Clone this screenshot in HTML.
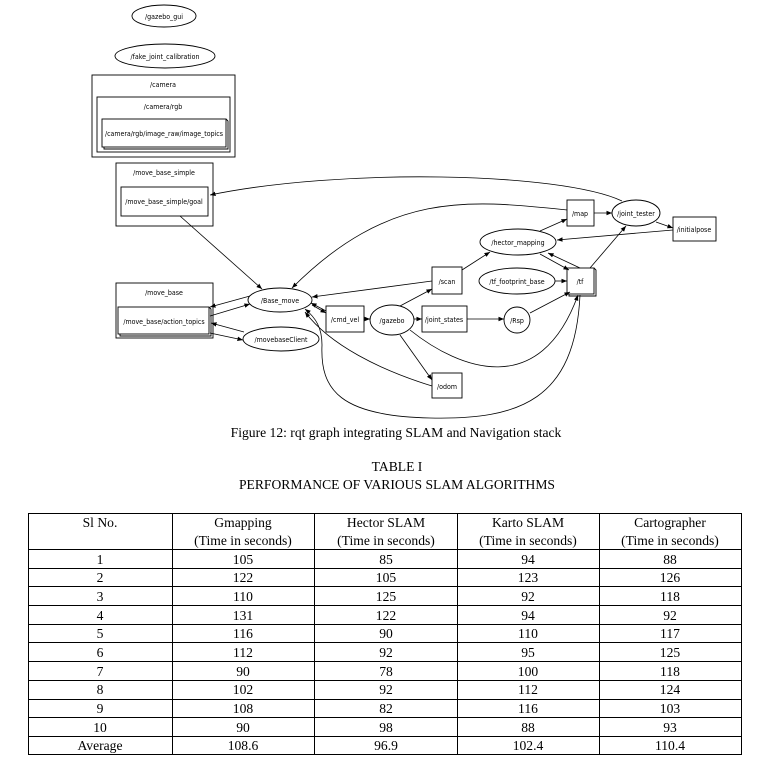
<!DOCTYPE html>
<html><head><meta charset="utf-8"><style>
html,body{margin:0;padding:0;background:#fff;}
svg{display:block}
.g{font-family:"DejaVu Sans Condensed","Liberation Sans",sans-serif;font-size:7px;fill:#000}
.t{font-family:"Liberation Serif",serif;font-size:13.6px;fill:#000}
</style></head><body>
<svg width="780" height="768" viewBox="0 0 780 768" xmlns="http://www.w3.org/2000/svg">
<defs><marker id="a" viewBox="0 0 10 10" refX="10" refY="5" markerWidth="7" markerHeight="7" orient="auto"><path d="M0,1 L10,5 L0,9z" fill="#000"/></marker></defs>
<g fill="none" stroke="#000" stroke-width="0.9">
<ellipse cx="164" cy="16" rx="32" ry="11"/>
<ellipse cx="165" cy="56" rx="50" ry="12"/>
<rect x="92" y="75" width="143" height="82"/>
<rect x="97" y="97" width="133" height="55"/>
<rect x="102" y="119" width="124" height="28"/><path d="M104,147 L104,149 L228,149 L228,121 L226,119"/>
<rect x="116" y="163" width="97" height="63"/>
<rect x="121" y="187" width="87" height="29"/>
<rect x="116" y="283" width="97" height="55"/>
<rect x="118" y="307" width="91" height="27"/><path d="M120,334 L120,336 L211,336 L211,309 L209,307"/>
<ellipse cx="280" cy="300" rx="32" ry="12"/>
<ellipse cx="281" cy="339" rx="38" ry="12"/>
<rect x="326" y="306" width="38" height="26"/>
<ellipse cx="392" cy="320" rx="22" ry="15"/>
<rect x="422" y="306" width="45" height="26"/>
<circle cx="517" cy="320" r="13"/>
<rect x="432" y="267" width="30" height="27"/>
<rect x="432" y="373" width="30" height="25"/>
<ellipse cx="518" cy="242" rx="38" ry="13"/>
<ellipse cx="517" cy="281" rx="38" ry="13"/>
<rect x="567" y="268" width="27" height="26"/><path d="M569,294 L569,296 L596,296 L596,270 L594,268"/>
<rect x="567" y="200" width="27" height="26"/>
<ellipse cx="636" cy="213" rx="24" ry="13"/>
<rect x="673" y="217" width="43" height="24"/>
</g>
<g fill="none" stroke="#000" stroke-width="0.8" marker-end="url(#a)">
<path d="M622,201 C560,172 340,168 210,195"/>
<path d="M180,216 L262,289"/>
<path d="M567,210 C470,200 390,190 292,288"/>
<path d="M594,213 L612,213"/>
<path d="M656,222 L673,228"/>
<path d="M673,230 L557,240"/>
<path d="M540,231 L567,219"/>
<path d="M540,254 L569,270"/>
<path d="M580,268 L548,253"/>
<path d="M590,268 L626,226"/>
<path d="M555,281 L567,281"/>
<path d="M432,281 L312,297"/>
<path d="M462,270 L490,252"/>
<path d="M250,296 L210,307"/>
<path d="M210,316 L250,304"/>
<path d="M210,333 L243,340"/>
<path d="M244,332 L211,323"/>
<path d="M312,305 L326,313"/>
<path d="M326,311 L311,303"/>
<path d="M364,319 L370,319"/>
<path d="M414,319 L422,319"/>
<path d="M467,319 L504,319"/>
<path d="M530,313 L570,292"/>
<path d="M400,306 L432,289"/>
<path d="M400,335 L432,380"/>
<path d="M410,330 C460,370 540,400 578,295"/>
<path d="M432,386 C380,370 330,345 305,312"/>
<path d="M580,295 C575,400 520,420 430,418 C340,416 320,390 322,345 C322,328 316,318 305,309"/>
</g>
<g class="g" text-anchor="middle">
<text x="164" y="19">/gazebo_gui</text>
<text x="165" y="59">/fake_joint_calibration</text>
<text x="163" y="87">/camera</text>
<text x="163" y="109">/camera/rgb</text>
<text x="164" y="136" textLength="118" lengthAdjust="spacingAndGlyphs">/camera/rgb/image_raw/image_topics</text>
<text x="164" y="175">/move_base_simple</text>
<text x="164" y="204">/move_base_simple/goal</text>
<text x="164" y="295">/move_base</text>
<text x="164" y="324">/move_base/action_topics</text>
<text x="280" y="303">/Base_move</text>
<text x="281" y="342">/movebaseClient</text>
<text x="345" y="322">/cmd_vel</text>
<text x="392" y="323">/gazebo</text>
<text x="444" y="322">/joint_states</text>
<text x="517" y="323">/Rsp</text>
<text x="447" y="284">/scan</text>
<text x="447" y="389">/odom</text>
<text x="518" y="245">/hector_mapping</text>
<text x="517" y="284">/tf_footprint_base</text>
<text x="580" y="284">/tf</text>
<text x="580" y="216">/map</text>
<text x="636" y="216">/joint_tester</text>
<text x="694" y="232">/initialpose</text>
</g>
<g class="t" text-anchor="middle">
<text x="396" y="437">Figure 12: rqt graph integrating SLAM and Navigation stack</text>
<text x="397" y="471">TABLE I</text>
<text x="397" y="489">PERFORMANCE OF VARIOUS SLAM ALGORITHMS</text>
</g>
<g stroke="#000" stroke-width="1" fill="none">
<rect x="28.5" y="513.5" width="713" height="241"/>
<path d="M172.5,513 V755 M314.5,513 V755 M457.5,513 V755 M599.5,513 V755"/>
<path d="M28,549.5 H742 M28,568.5 H742 M28,586.5 H742 M28,605.5 H742 M28,624.5 H742 M28,642.5 H742 M28,661.5 H742 M28,680.5 H742 M28,699.5 H742 M28,717.5 H742 M28,736.5 H742"/>
</g>
<g class="t" text-anchor="middle">
<text x="100" y="527">Sl No.</text>
<text x="243" y="527">Gmapping</text><text x="243" y="545">(Time in seconds)</text>
<text x="386" y="527">Hector SLAM</text><text x="386" y="545">(Time in seconds)</text>
<text x="528" y="527">Karto SLAM</text><text x="528" y="545">(Time in seconds)</text>
<text x="670" y="527">Cartographer</text><text x="670" y="545">(Time in seconds)</text>
</g>
<g class="t" text-anchor="middle">
<text x="100" y="564">1</text><text x="243" y="564">105</text><text x="386" y="564">85</text><text x="528" y="564">94</text><text x="670" y="564">88</text>
<text x="100" y="582">2</text><text x="243" y="582">122</text><text x="386" y="582">105</text><text x="528" y="582">123</text><text x="670" y="582">126</text>
<text x="100" y="601">3</text><text x="243" y="601">110</text><text x="386" y="601">125</text><text x="528" y="601">92</text><text x="670" y="601">118</text>
<text x="100" y="620">4</text><text x="243" y="620">131</text><text x="386" y="620">122</text><text x="528" y="620">94</text><text x="670" y="620">92</text>
<text x="100" y="638">5</text><text x="243" y="638">116</text><text x="386" y="638">90</text><text x="528" y="638">110</text><text x="670" y="638">117</text>
<text x="100" y="657">6</text><text x="243" y="657">112</text><text x="386" y="657">92</text><text x="528" y="657">95</text><text x="670" y="657">125</text>
<text x="100" y="676">7</text><text x="243" y="676">90</text><text x="386" y="676">78</text><text x="528" y="676">100</text><text x="670" y="676">118</text>
<text x="100" y="694">8</text><text x="243" y="694">102</text><text x="386" y="694">92</text><text x="528" y="694">112</text><text x="670" y="694">124</text>
<text x="100" y="713">9</text><text x="243" y="713">108</text><text x="386" y="713">82</text><text x="528" y="713">116</text><text x="670" y="713">103</text>
<text x="100" y="732">10</text><text x="243" y="732">90</text><text x="386" y="732">98</text><text x="528" y="732">88</text><text x="670" y="732">93</text>
<text x="100" y="750">Average</text><text x="243" y="750">108.6</text><text x="386" y="750">96.9</text><text x="528" y="750">102.4</text><text x="670" y="750">110.4</text>
</g>
</svg>
</body></html>
